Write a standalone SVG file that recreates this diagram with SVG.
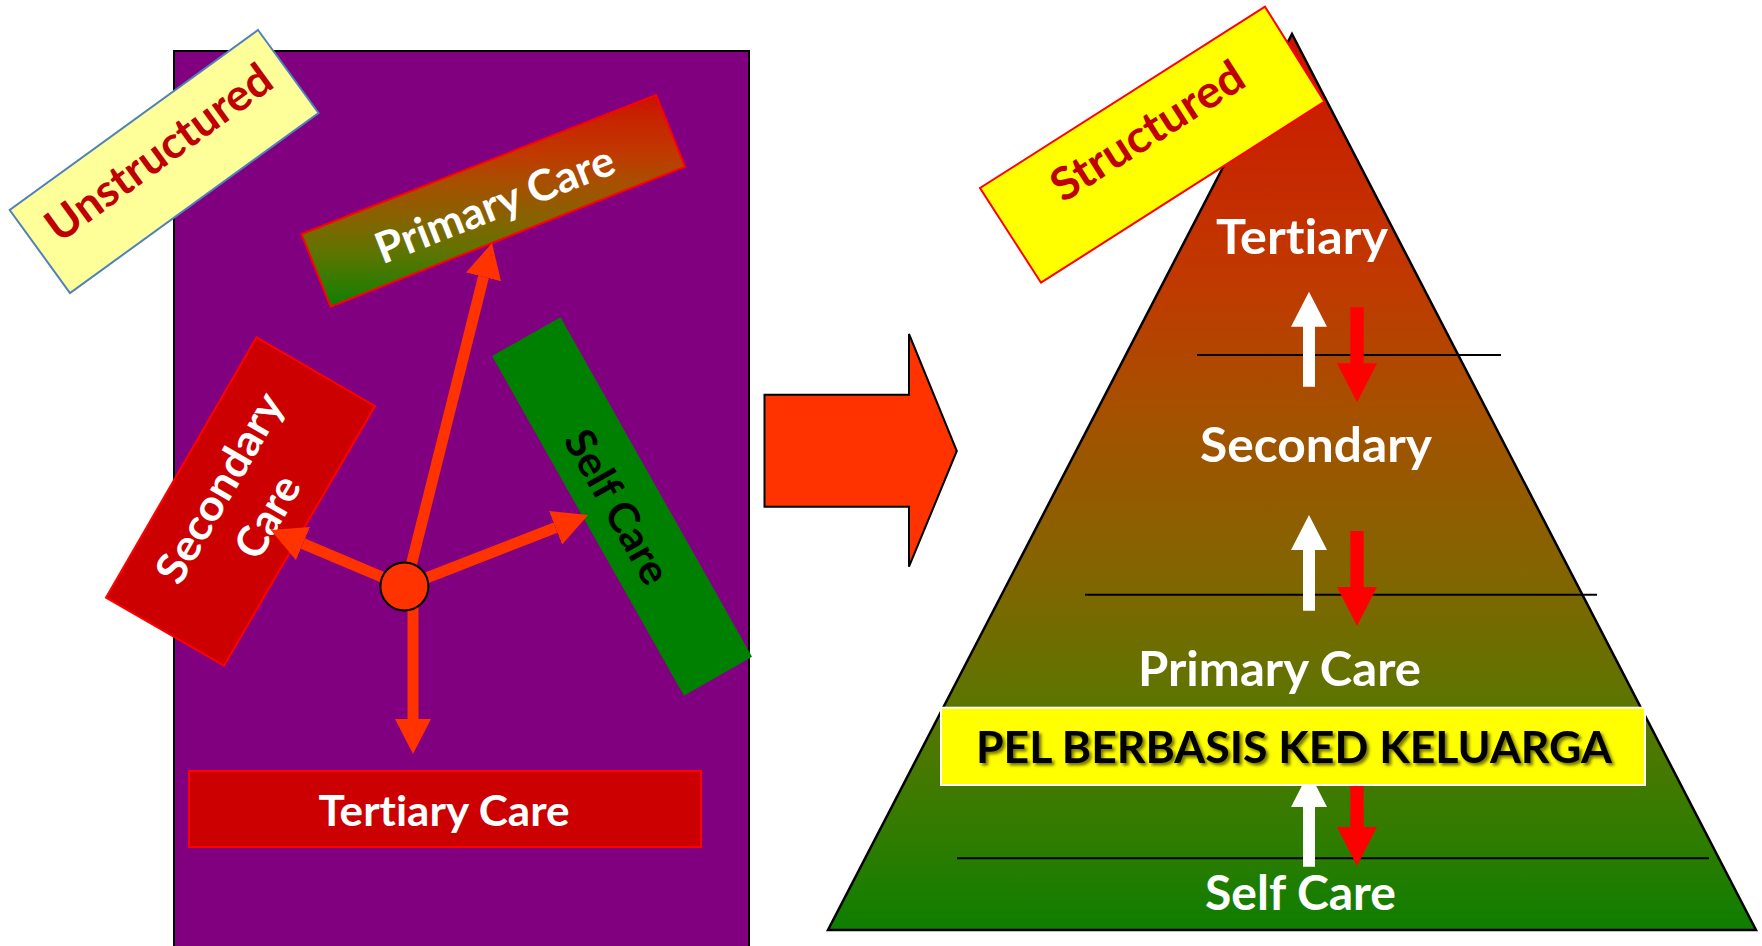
<svg xmlns="http://www.w3.org/2000/svg" width="1762" height="946" viewBox="0 0 1762 946">
<defs>
<linearGradient id="rg" x1="0" y1="0" x2="0" y2="1">
<stop offset="0" stop-color="#CC1000"/>
<stop offset="0.1" stop-color="#C82200"/>
<stop offset="0.28" stop-color="#C03A00"/>
<stop offset="0.42" stop-color="#A65000"/>
<stop offset="0.6" stop-color="#836500"/>
<stop offset="0.75" stop-color="#5C7500"/>
<stop offset="0.9" stop-color="#2E7C00"/>
<stop offset="1" stop-color="#0E7E00"/>
</linearGradient>
<marker id="oh" markerUnits="userSpaceOnUse" viewBox="0 0 36 36" markerWidth="36" markerHeight="36" refX="0" refY="18" orient="auto">
<path d="M0,0 L35,18 L0,36 Z" fill="#FF3300"/>
</marker>
<filter id="sh" x="-5%" y="-30%" width="110%" height="160%">
<feDropShadow dx="2.5" dy="2.5" stdDeviation="1.5" flood-color="#000" flood-opacity="0.55"/>
</filter>
</defs>
<style>
.t{font-family:Lato,'Liberation Sans',sans-serif;font-weight:700;text-anchor:middle;font-variant-ligatures:none;font-feature-settings:"liga" 0,"dlig" 0}
.w{fill:#FFFFFF}
.dr{fill:#C00000}
.oc{stroke:#FF3300;stroke-width:11;fill:none;marker-end:url(#oh)}
.hl{stroke:#000;stroke-width:2}
.wa{fill:#FFFFFF}
.ra{fill:#FF0000}
</style>
<rect width="1762" height="946" fill="#FFFFFF"/>

<g id="unstructured-panel">
<rect x="174" y="51" width="575" height="910" fill="#800080" stroke="#000" stroke-width="2"/>
</g>

<g id="node-unstructured">
<polygon points="258,30 318.5,113 70,293 9.7,210" fill="#FFFF99" stroke="#4F81BD" stroke-width="2"/>
<text class="t dr" font-size="44" textLength="268" lengthAdjust="spacingAndGlyphs" transform="translate(164,161.5) rotate(-36)" x="1" y="5">Unstructured</text>
</g>

<g id="node-primary-left">
<polygon points="301.5,234 656,95 685,166.7 330.6,306.7" fill="url(#rg)" stroke="#FF0000" stroke-width="2"/>
<text class="t w" font-size="43" textLength="253" lengthAdjust="spacingAndGlyphs" transform="translate(493.3,200.6) rotate(-21.4)" x="0" y="19">Primary Care</text>
</g>

<g id="node-secondary-left">
<polygon points="256.5,337.3 374.9,406 224,665.7 106,597.7" fill="#CC0000" stroke="#FF0000" stroke-width="2"/>
<text class="t w" font-size="43" transform="translate(240.35,501.7) rotate(-60)"><tspan x="1.6" y="-10" textLength="212" lengthAdjust="spacingAndGlyphs">Secondary</tspan><tspan x="0.6" y="46" textLength="88" lengthAdjust="spacingAndGlyphs">Care</tspan></text>
</g>

<g id="node-self-left">
<polygon points="492,356 560.5,317.3 752,656.7 684,695.7" fill="#008000"/>
<text class="t" fill="#000" font-size="42" textLength="170" lengthAdjust="spacingAndGlyphs" transform="translate(622.1,506.4) rotate(60.6)" x="-2" y="19">Self Care</text>
</g>

<g id="node-tertiary-left">
<rect x="189" y="771" width="512" height="76" fill="#CC0000" stroke="#FF0000" stroke-width="2"/>
<text class="t w" font-size="42" textLength="251" lengthAdjust="spacingAndGlyphs" x="444" y="826">Tertiary Care</text>
</g>

<g id="connectors">
<line class="oc" x1="405.7" y1="587" x2="483.5" y2="276.9"/>
<line class="oc" x1="404.4" y1="586.5" x2="303" y2="543.6"/>
<line class="oc" x1="404.4" y1="586.5" x2="555.6" y2="527.7"/>
<line class="oc" x1="413" y1="600" x2="413" y2="719"/>
</g>

<g id="node-hub">
<circle cx="404.4" cy="586.5" r="24" fill="#FF3300" stroke="#000" stroke-width="2"/>
</g>

<g id="transition-arrow">
<polygon points="764.5,394.7 909,394.7 909,334 956.8,451 909,566.7 909,506.7 764.5,506.7" fill="#FF3300" stroke="#000" stroke-width="2"/>
</g>

<g id="node-pyramid">
<polygon points="1292,34 1756,930 828,930" fill="url(#rg)" stroke="#000" stroke-width="2.5"/>
<line class="hl" x1="1197" y1="355" x2="1501" y2="355"/>
<line class="hl" x1="1085" y1="594.7" x2="1597" y2="594.7"/>
<line class="hl" x1="957" y1="858.3" x2="1709" y2="858.3"/>
<text class="t w" font-size="47" textLength="172" lengthAdjust="spacingAndGlyphs" x="1302" y="254">Tertiary</text>
<text class="t w" font-size="47" textLength="232" lengthAdjust="spacingAndGlyphs" x="1316" y="462">Secondary</text>
<text class="t w" font-size="47" textLength="283" lengthAdjust="spacingAndGlyphs" x="1279.5" y="686">Primary Care</text>
<text class="t w" font-size="47" textLength="191" lengthAdjust="spacingAndGlyphs" x="1300.5" y="910">Self Care</text>
</g>

<g id="level-arrows">
<path class="wa" d="M1309,291.7 L1327,326.7 L1315,326.7 L1315,386.7 L1303,386.7 L1303,326.7 L1291,326.7 Z"/>
<path class="ra" d="M1350.3,307.3 L1363.7,307.3 L1363.7,363.3 L1377,363.3 L1357,402.3 L1337,363.3 L1350.3,363.3 Z"/>
<path class="wa" d="M1309,515 L1327,550 L1315,550 L1315,610.7 L1303,610.7 L1303,550 L1291,550 Z"/>
<path class="ra" d="M1350.3,531 L1363.7,531 L1363.7,587 L1377,587 L1357,626 L1337,587 L1350.3,587 Z"/>
<path class="wa" d="M1309,772 L1327,807 L1315,807 L1315,866.7 L1303,866.7 L1303,807 L1291,807 Z"/>
<path class="ra" d="M1350.3,780 L1363.7,780 L1363.7,827 L1377,827 L1357,866 L1337,827 L1350.3,827 Z"/>
</g>

<g id="node-pel">
<rect x="941" y="707.7" width="704" height="77.3" fill="#FFFF00" stroke="#FFFFFF" stroke-width="2"/>
<text class="t" fill="#000" font-size="43" textLength="636" lengthAdjust="spacingAndGlyphs" x="1294" y="762.7" filter="url(#sh)">PEL BERBASIS KED KELUARGA</text>
</g>

<g id="node-structured">
<polygon points="1265,6.7 1324.5,101.7 1041,282.7 980,188" fill="#FFFF00" stroke="#FF0000" stroke-width="2"/>
<text class="t dr" font-size="45" textLength="220" lengthAdjust="spacingAndGlyphs" transform="translate(1152.6,144.8) rotate(-32.5)" x="3" y="1">Structured</text>
</g>
</svg>
